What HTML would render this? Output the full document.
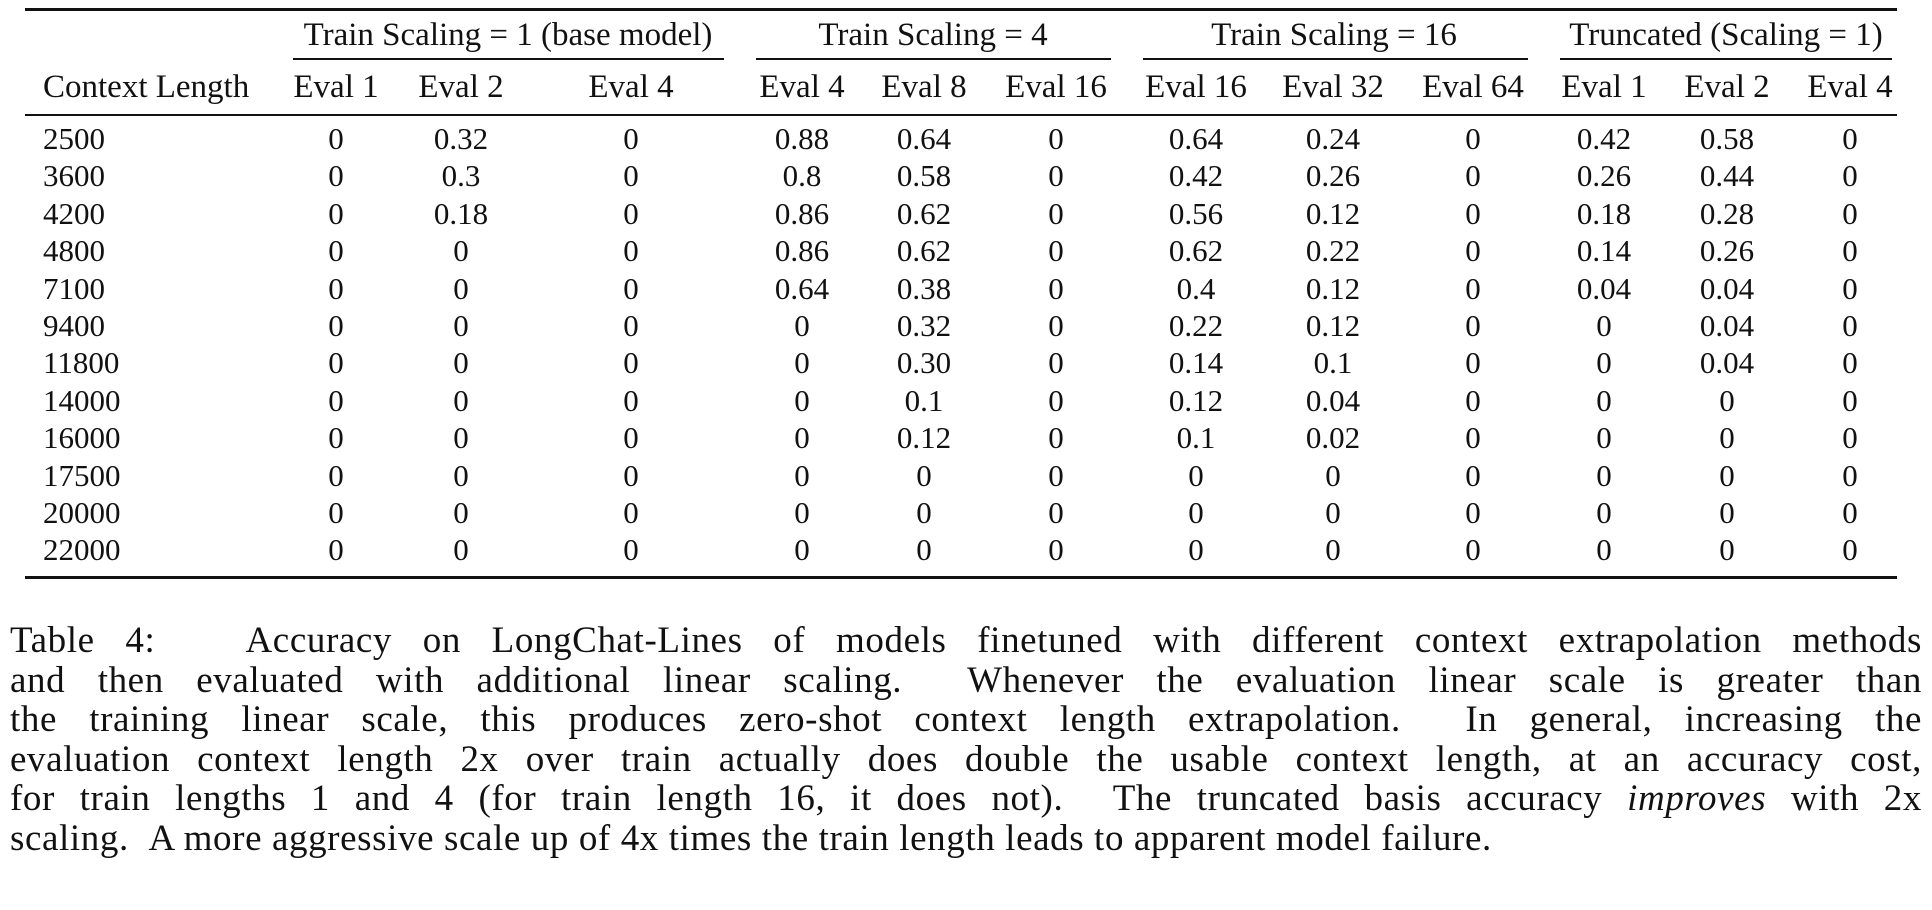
<!DOCTYPE html>
<html><head><meta charset="utf-8"><style>
html,body{margin:0;padding:0;background:#fff;}
body{width:1932px;height:910px;position:relative;overflow:hidden;font-family:"Liberation Serif","DejaVu Serif",serif;color:#111;}
.r{position:absolute;background:#111;}
.t{position:absolute;font-size:31px;line-height:32px;white-space:nowrap;transform:translate(-50%,-50%);}
.l{position:absolute;font-size:31px;line-height:32px;white-space:nowrap;transform:translateY(-50%);}
.h{font-size:33px;}
.g{font-size:33px;}
.cap{position:absolute;left:10px;width:1912px;font-size:37px;line-height:39.5px;letter-spacing:0.6px;}
.cap div{text-align:justify;text-align-last:justify;white-space:nowrap;height:39.5px;}
.cap div.last{text-align-last:left;}
</style></head><body>
<div class="r" style="left:25px;top:8px;width:1872px;height:3px"></div>
<div class="r" style="left:25px;top:114px;width:1872px;height:2px"></div>
<div class="r" style="left:25px;top:576px;width:1872px;height:3px"></div>
<div class="r" style="left:293px;top:58px;width:431px;height:1.5px"></div>
<div class="r" style="left:756px;top:58px;width:355px;height:1.5px"></div>
<div class="r" style="left:1143px;top:58px;width:385px;height:1.5px"></div>
<div class="r" style="left:1560px;top:58px;width:332px;height:1.5px"></div>
<div class="t g" style="left:508px;top:35px">Train Scaling = 1 (base model)</div>
<div class="t g" style="left:933px;top:35px">Train Scaling = 4</div>
<div class="t g" style="left:1334px;top:35px">Train Scaling = 16</div>
<div class="t g" style="left:1726px;top:35px">Truncated (Scaling = 1)</div>
<div class="l g" style="left:43px;top:87px">Context Length</div>
<div id="rows"></div>
<script>
var xs=[336,461,631,802,924,1056,1196,1333,1473,1604,1727,1850];
var hd=["Eval 1","Eval 2","Eval 4","Eval 4","Eval 8","Eval 16","Eval 16","Eval 32","Eval 64","Eval 1","Eval 2","Eval 4"];
var data=[
["2500","0","0.32","0","0.88","0.64","0","0.64","0.24","0","0.42","0.58","0"],
["3600","0","0.3","0","0.8","0.58","0","0.42","0.26","0","0.26","0.44","0"],
["4200","0","0.18","0","0.86","0.62","0","0.56","0.12","0","0.18","0.28","0"],
["4800","0","0","0","0.86","0.62","0","0.62","0.22","0","0.14","0.26","0"],
["7100","0","0","0","0.64","0.38","0","0.4","0.12","0","0.04","0.04","0"],
["9400","0","0","0","0","0.32","0","0.22","0.12","0","0","0.04","0"],
["11800","0","0","0","0","0.30","0","0.14","0.1","0","0","0.04","0"],
["14000","0","0","0","0","0.1","0","0.12","0.04","0","0","0","0"],
["16000","0","0","0","0","0.12","0","0.1","0.02","0","0","0","0"],
["17500","0","0","0","0","0","0","0","0","0","0","0","0"],
["20000","0","0","0","0","0","0","0","0","0","0","0","0"],
["22000","0","0","0","0","0","0","0","0","0","0","0","0"]];
var h="";
for(var j=0;j<12;j++)h+='<div class="t h" style="left:'+xs[j]+'px;top:87px">'+hd[j]+'</div>';
for(var i=0;i<12;i++){var y=139+i*37.4;
h+='<div class="l" style="left:43px;top:'+y+'px">'+data[i][0]+'</div>';
for(var j=0;j<12;j++)h+='<div class="t" style="left:'+xs[j]+'px;top:'+y+'px">'+data[i][j+1]+'</div>';}
document.getElementById("rows").innerHTML=h;
</script>
<div class="cap" style="top:621px">
<div>Table 4: &nbsp; Accuracy on LongChat-Lines of models finetuned with different context extrapolation methods</div>
<div>and then evaluated with additional linear scaling. &nbsp;Whenever the evaluation linear scale is greater than</div>
<div>the training linear scale, this produces zero-shot context length extrapolation. &nbsp;In general, increasing the</div>
<div>evaluation context length 2x over train actually does double the usable context length, at an accuracy cost,</div>
<div>for train lengths 1 and 4 (for train length 16, it does not). &nbsp;The truncated basis accuracy <i>improves</i> with 2x</div>
<div class="last">scaling. &nbsp;A more aggressive scale up of 4x times the train length leads to apparent model failure.</div>
</div>
</body></html>
